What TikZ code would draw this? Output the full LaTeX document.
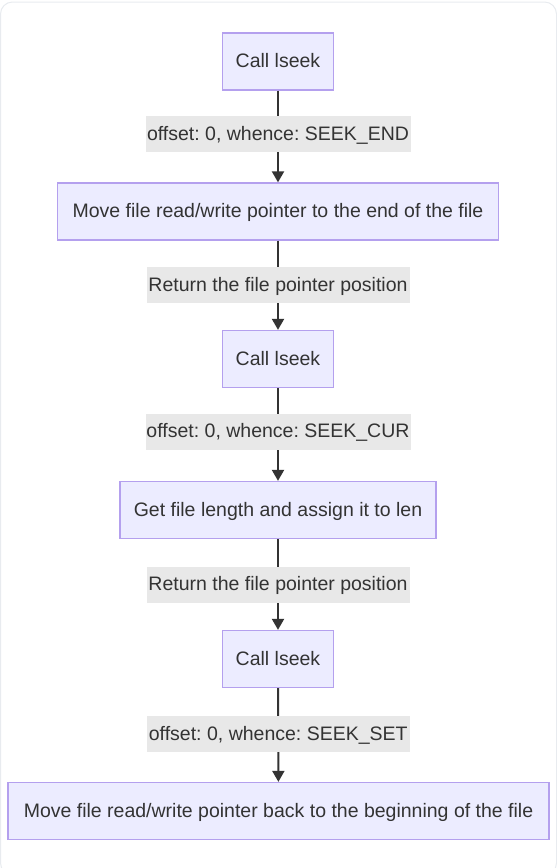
\documentclass[tikz,border=0pt]{standalone}
\usepackage{fontspec}
\setmainfont{Liberation Sans}
\usetikzlibrary{arrows.meta}
\definecolor{boxfill}{HTML}{ECECFF}
\definecolor{boxline}{HTML}{B4A0EE}
\definecolor{txt}{HTML}{333333}
\definecolor{lblbg}{HTML}{E8E8E8}
\definecolor{frame}{HTML}{E8EBEF}
\tikzset{
  stepbox/.style={draw=boxline, line width=1.3pt, fill=boxfill, text=txt, minimum height=57pt, inner sep=0pt, text height=14pt, text depth=1.5pt, font=\fontsize{19.5pt}{23pt}\selectfont},
  lbl/.style={fill=lblbg, text=txt, minimum height=36pt, inner sep=0pt, text height=14pt, text depth=1.5pt, font=\fontsize{19.5pt}{23pt}\selectfont},
  flow/.style={draw=txt, line width=2pt, -{Triangle[length=11pt,width=12pt]}},
}
\begin{document}
\frenchspacing
\begin{tikzpicture}[x=1pt,y=-1pt]
\useasboundingbox (0,0) rectangle (557,868);
\draw[frame, line width=1pt, rounded corners=12pt] (0.5,2) rectangle (556.5,875);
\node[stepbox, minimum width=111pt] (c1) at (278,61.5) {Call lseek};
\node[stepbox, minimum width=441pt] (m1) at (278,211.5) {Move file read/write pointer to the end of the file};
\node[stepbox, minimum width=111pt] (c2) at (278,359) {Call lseek};
\node[stepbox, minimum width=316pt] (g1) at (278,510) {Get file length and assign it to len};
\node[stepbox, minimum width=111pt] (c3) at (278,659) {Call lseek};
\node[stepbox, minimum width=541pt] (m2) at (278.5,811) {Move file read/write pointer back to the beginning of the file};
\draw[flow] (c1) -- (m1) node[lbl, pos=0.47, minimum width=265pt] (l1) {offset: 0, whence: SEEK\_END};
\draw[flow] (m1) -- (c2) node[lbl, pos=0.5, minimum width=263pt] (l2) {Return the file pointer position};
\draw[flow] (c2) -- (g1) node[lbl, pos=0.47, minimum width=265pt] (l3) {offset: 0, whence: SEEK\_CUR};
\draw[flow] (g1) -- (c3) node[lbl, pos=0.5, minimum width=263pt] (l4) {Return the file pointer position};
\draw[flow] (c3) -- (m2) node[lbl, pos=0.49, minimum width=263pt] (l5) {offset: 0, whence: SEEK\_SET};
\end{tikzpicture}
\end{document}
